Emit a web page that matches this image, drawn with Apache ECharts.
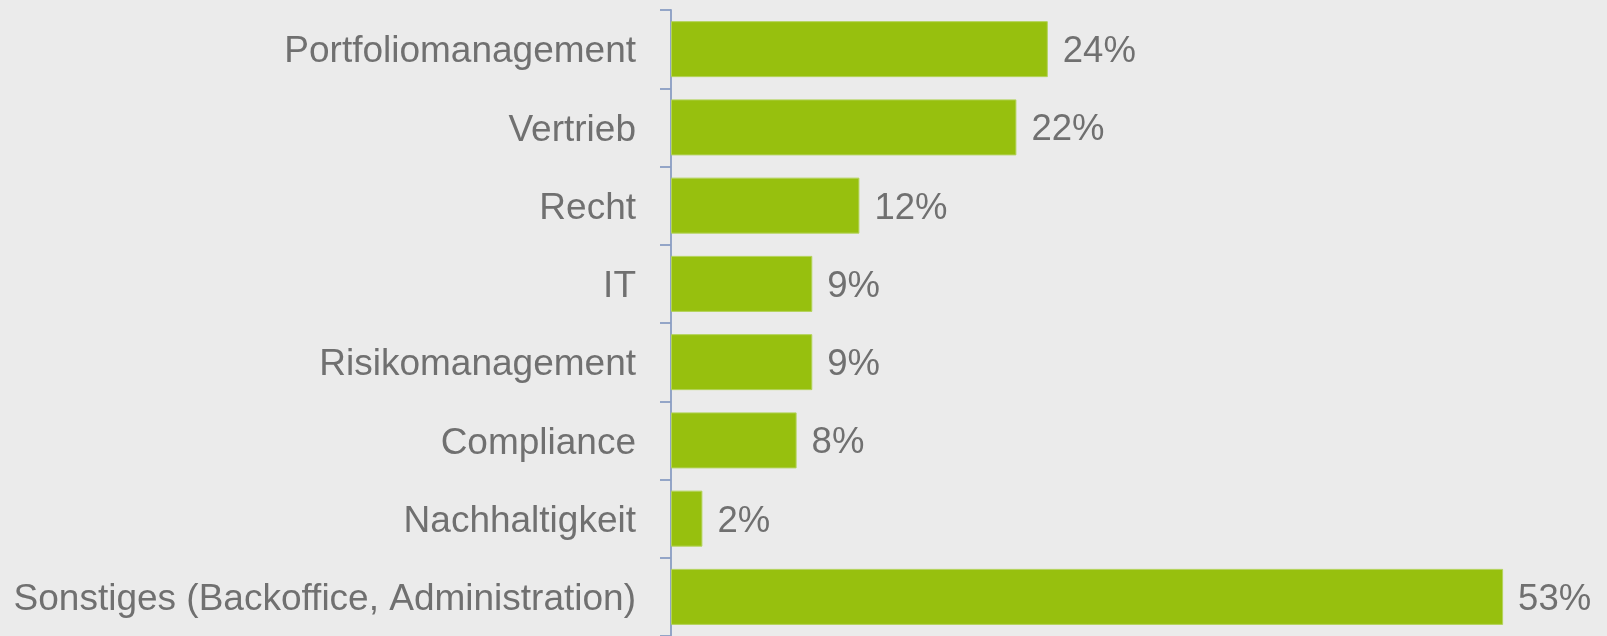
<!DOCTYPE html>
<html>
<head>
<meta charset="utf-8">
<script src="https://cdn.jsdelivr.net/npm/echarts@6/dist/echarts.min.js"></script>
<style>
html,body{margin:0;padding:0;background:#EBEBEB;}
#chart{width:1607px;height:636px;}
</style>
</head>
<body>
<div id="chart"></div>
<script>
const categories = ["Portfoliomanagement","Vertrieb","Recht","IT","Risikomanagement","Compliance","Nachhaltigkeit","Sonstiges (Backoffice, Administration)"];
const values = [24,22,12,9,9,8,2,53];

const font = 'Liberation Sans, Arial, sans-serif';
const chart = echarts.init(document.getElementById('chart'));
chart.setOption({
  backgroundColor:'#EBEBEB',
  animation:false,
  grid:{left:671, top:10, height:627.7, right:72.5},
  xAxis:{type:'value', min:0, max:55, show:false, splitLine:{show:false}},
  yAxis:{
    type:'category', data:categories, inverse:true,
    axisLine:{show:true, lineStyle:{color:'#8A9DC3', width:1.8}},
    axisTick:{show:true, length:11, lineStyle:{color:'#8A9DC3', width:1.8}},
    axisLabel:{
      margin:35,
      formatter:function(v){ return '{a|' + v + '}'; },
      rich:{a:{color:'#707070', fontSize:37, fontFamily:font, padding:[6,0,0,0]}}
    }
  },
  series:[{
    type:'bar', data:values, barWidth:56,
    itemStyle:{color:'#97C00E', borderColor:'#B3D35A', borderWidth:1},
    label:{show:true, position:'right', distance:15, offset:[0,3], formatter:'{c}%', color:'#707070', fontSize:36.5, fontFamily:font}
  }]
});
</script>
</body>
</html>
